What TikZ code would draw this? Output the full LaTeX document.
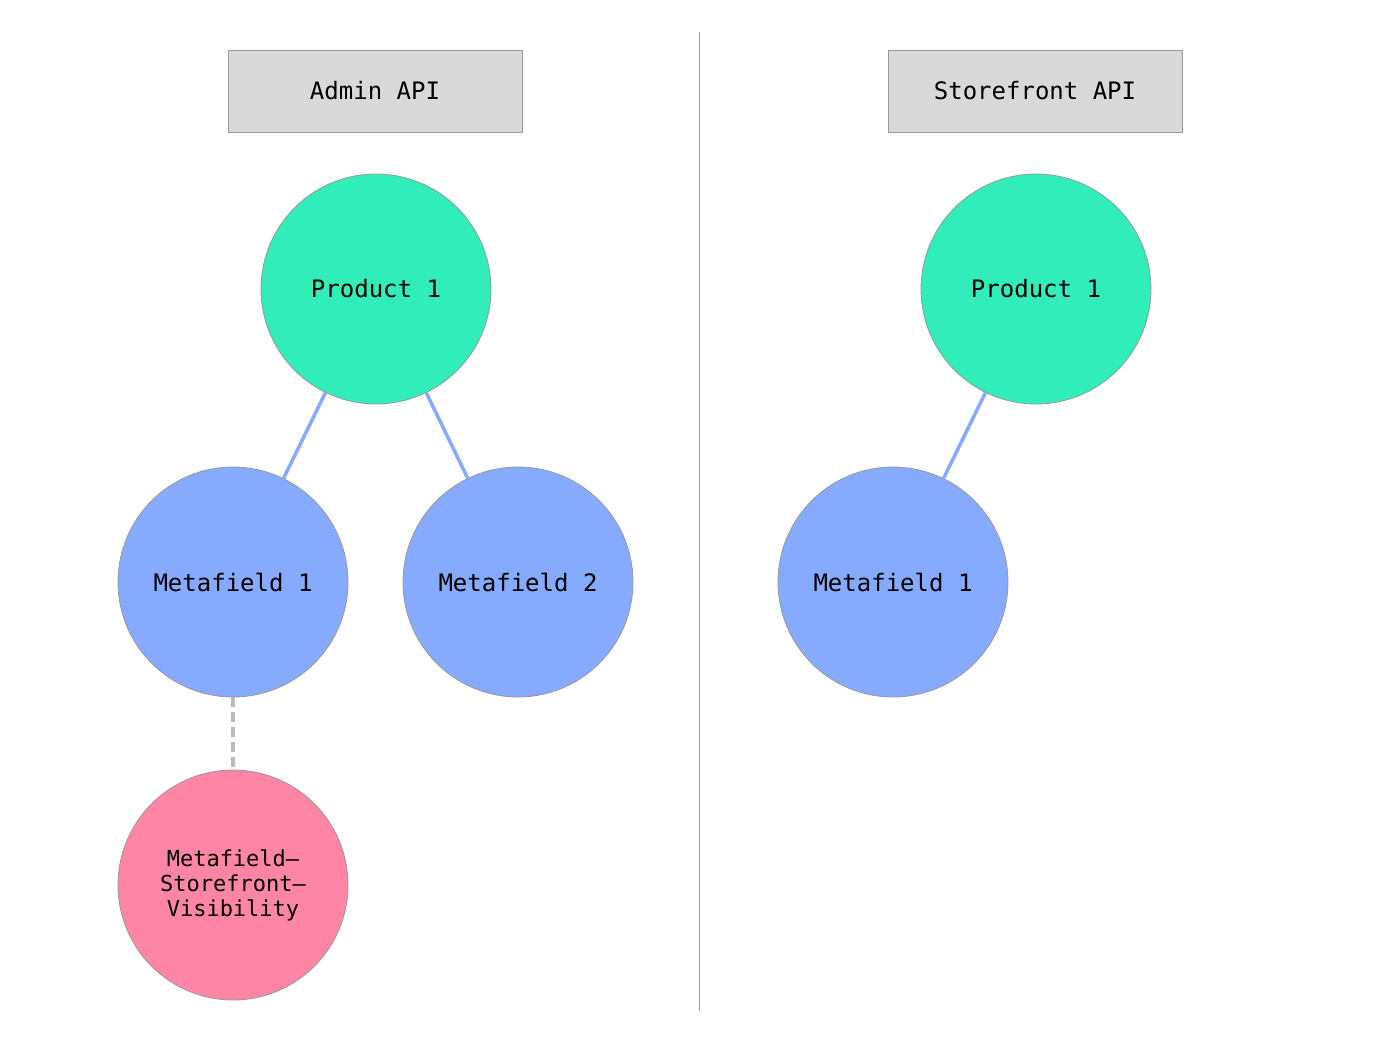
\documentclass[tikz,border=0pt]{standalone}
\usepackage{fontspec}
\setmonofont{DejaVu Sans Mono}
\usepackage{tikz}
\usetikzlibrary{positioning}
\definecolor{productgreen}{RGB}{49,237,185}
\definecolor{metablue}{RGB}{134,171,254}
\definecolor{vispink}{RGB}{255,133,166}
\definecolor{boxgray}{RGB}{217,217,217}
\definecolor{rimgray}{RGB}{153,153,153}
\definecolor{dashgray}{RGB}{187,187,187}

\begin{document}
\begin{tikzpicture}[x=1pt,y=-1pt,
    apibox/.style={draw=rimgray,fill=boxgray,line width=0.8pt,minimum width=294pt,minimum height=82pt,
      inner sep=0pt,font=\ttfamily\fontsize{24}{28}\selectfont},
    ball/.style={circle,draw=rimgray,line width=0.8pt,minimum size=230pt,inner sep=0pt,align=center,
      font=\ttfamily\fontsize{24}{28}\selectfont},
    prodball/.style={ball,fill=productgreen},
    metaball/.style={ball,fill=metablue},
    visball/.style={ball,fill=vispink,font=\ttfamily\fontsize{22}{25}\selectfont},
    link/.style={metablue,line width=3.5pt},
    vislink/.style={dashgray,line width=3.5pt,dash pattern=on 10pt off 5pt}]
  \useasboundingbox (0,0) rectangle (1400,1060);
  % divider between the two APIs
  \coordinate (divtop) at (699,32);
  \coordinate (divbot) at (699,1011);
  \draw[rimgray,line width=1pt] (divtop) -- (divbot);
  % admin side
  \node[apibox] (admin) at (375,91) {Admin API};
  \node[prodball] (adminprod) at (376,289) {Product 1};
  \node[metaball] (adminmeta1) at (233,582) {Metafield 1};
  \node[metaball] (adminmeta2) at (518,582) {Metafield 2};
  \node[visball] (adminvis) at (233,885) {Metafield–\\Storefront–\\Visibility};
  \draw[link] (adminprod) -- (adminmeta1);
  \draw[link] (adminprod) -- (adminmeta2);
  \draw[vislink] (adminmeta1) -- (adminvis);
  % storefront side
  \node[apibox] (store) at (1035,91) {Storefront API};
  \node[prodball] (storeprod) at (1036,289) {Product 1};
  \node[metaball] (storemeta1) at (893,582) {Metafield 1};
  \draw[link] (storeprod) -- (storemeta1);
\end{tikzpicture}
\end{document}
